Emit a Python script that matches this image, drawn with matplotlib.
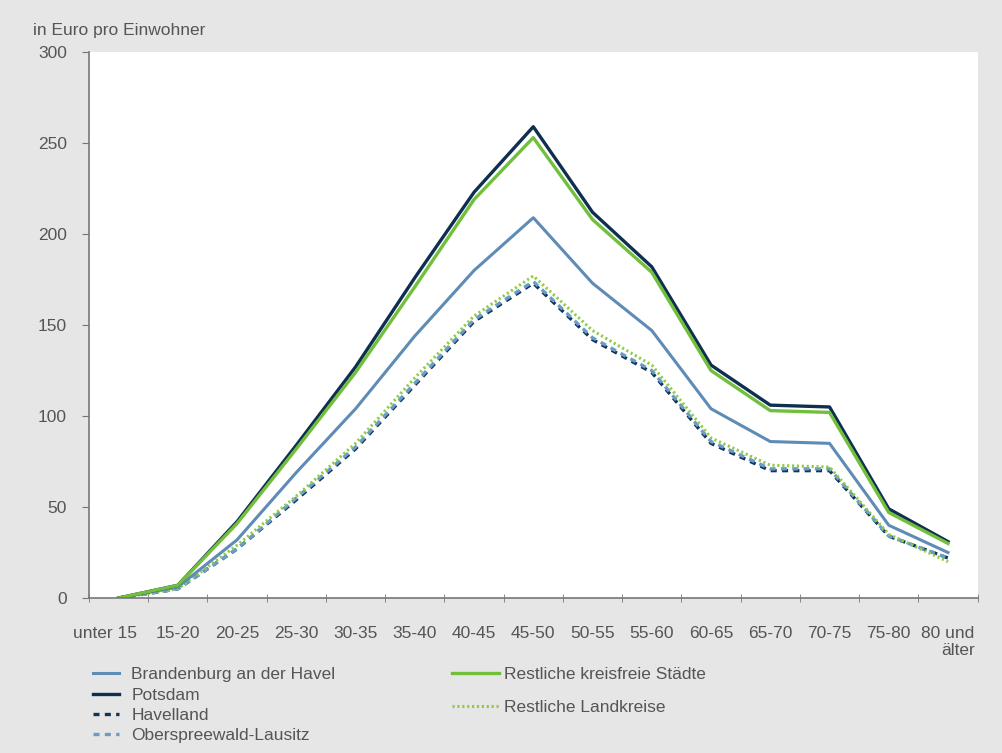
import matplotlib
matplotlib.use("Agg")
import matplotlib.pyplot as plt
import matplotlib.transforms as mtransforms

plt.rcParams["font.family"] = ["Liberation Sans", "DejaVu Sans"]

# age groups and spending per inhabitant (Euro)
age_groups = ["unter 15", "15-20", "20-25", "25-30", "30-35", "35-40", "40-45",
              "45-50", "50-55", "55-60", "60-65", "65-70", "70-75", "75-80",
              "80 und\nälter"]
brandenburg = [0, 6, 32, 69, 104, 144, 180, 209, 173, 147, 104, 86, 85, 40, 25]
potsdam = [0, 7, 42, 84, 127, 176, 223, 259, 212, 182, 128, 106, 105, 49, 31]
havelland = [0, 5, 27, 54, 82, 117, 152, 173, 142, 124, 85, 70, 70, 34, 22]
oberspreewald = [0, 5, 27, 55, 83, 118, 153, 174, 143, 125, 86, 71, 71, 34, 22]
rest_staedte = [0, 7, 41, 82, 124, 171, 219, 253, 208, 179, 125, 103, 102, 47, 30]
rest_landkreise = [0, 5, 29, 56, 85, 121, 155, 177, 147, 128, 88, 73, 72, 35, 20]

BG = "#e6e6e6"
TXT = "#555555"
FS = 12.5

fig = plt.figure(figsize=(10.03, 7.53), dpi=100, facecolor=BG)
ax = fig.add_axes([0.0887, 0.2058, 0.886, 0.725])
ax.set_facecolor("white")

x = list(range(len(age_groups)))
l_hav, = ax.plot(x, havelland, color="#12345a", lw=2.4, dashes=(1.8, 1.6),
                 label="Havelland")
l_osl, = ax.plot(x, oberspreewald, color="#6a9cc8", lw=2.4, dashes=(1.8, 1.6),
                 label="Oberspreewald-Lausitz")
l_lk, = ax.plot(x, rest_landkreise, color="#8fcc45", lw=2.2, dashes=(0.7, 0.9),
                label="Restliche Landkreise")
l_bra, = ax.plot(x, brandenburg, color="#5e8cb6", lw=2.2,
                 label="Brandenburg an der Havel")
l_pot, = ax.plot(x, potsdam, color="#0f2f50", lw=2.4, label="Potsdam")
l_rs, = ax.plot(x, rest_staedte, color="#72bf3c", lw=2.4,
                label="Restliche kreisfreie Städte")

ax.set_xlim(-0.5, len(age_groups) - 0.5)
ax.set_ylim(0, 300)
ax.set_yticks(range(0, 301, 50))
ax.set_xticks(x)
ax.set_xticklabels(age_groups, multialignment="right")
ax.set_xticks([i - 0.5 for i in range(len(age_groups) + 1)], minor=True)
ax.tick_params(axis="x", which="major", length=0, pad=20, labelsize=FS,
               labelcolor=TXT)
ax.tick_params(axis="x", which="minor", length=6, direction="inout",
               color="#777777")
ax.tick_params(axis="y", length=5, color="#777777", labelsize=FS,
               labelcolor=TXT, pad=11)

# first label sits a bit to the left in the original
first = ax.get_xticklabels()[0]
first.set_transform(first.get_transform() +
                    mtransforms.ScaledTranslation(-14 / 100, 0, fig.dpi_scale_trans))

for side in ["top", "right"]:
    ax.spines[side].set_visible(False)
for side in ["left", "bottom"]:
    ax.spines[side].set_color("#777777")
    ax.spines[side].set_linewidth(1.2)

fig.text(0.033, 0.953, "in Euro pro Einwohner", fontsize=FS, color=TXT,
         ha="left", va="baseline")

leg1 = fig.legend(handles=[l_bra, l_pot, l_hav, l_osl], loc="upper left",
                  bbox_to_anchor=(0.0927, 0.114), frameon=False, fontsize=FS,
                  handlelength=1.5, handletextpad=0.7, labelspacing=0.3,
                  labelcolor=TXT, borderaxespad=0, borderpad=0)
leg2 = fig.legend(handles=[l_rs, l_lk], loc="upper left",
                  bbox_to_anchor=(0.4507, 0.114), frameon=False, fontsize=FS,
                  handlelength=2.7, handletextpad=0.3, labelspacing=1.0,
                  labelcolor=TXT, borderaxespad=0, borderpad=0)

fig.savefig("out.png", dpi=100, facecolor=BG)
